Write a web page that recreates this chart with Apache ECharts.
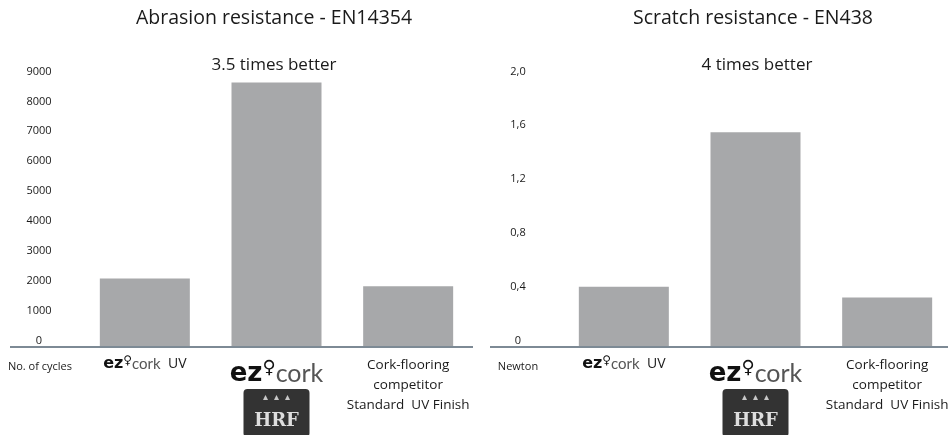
<!DOCTYPE html>
<html>
<head>
<meta charset="utf-8">
<script src="https://cdn.jsdelivr.net/npm/echarts@6/dist/echarts.min.js"></script>
<style>
    html, body { margin: 0; padding: 0; background: #fff; }
    #chart { width: 949px; height: 435px; }
</style>
</head>
<body>
<div id="chart"></div>
<script>
var categories = ['ezcork UV', 'ezcork HRF', 'Cork-flooring competitor Standard UV Finish'];
var abrasionCycles = [2260, 8820, 2000];
var scratchNewton = [0.44, 1.59, 0.36];
var abrasionTicks = { min: 0, max: 9000, interval: 1000 };
var scratchTicks = { min: 0, max: 2, interval: 0.4 };
var titles = ['Abrasion resistance - EN14354', 'Scratch resistance - EN438'];
var subtitles = ['3.5 times better', '4 times better'];
var unitNames = ['No. of cycles', 'Newton'];

var fontFamily = "'Open Sans', 'Noto Sans', sans-serif";
var barColor = '#a7a8aa';
var lineColor = '#7d8a95';
var textColor = '#1a1a1a';

function categoryLabel(value) {
    if (value == categories[0]) {
        return '{ez|ez}{logo|♀}{cork|cork}{uv|  UV}';
    }
    if (value == categories[1]) {
        return '{ez2|ez}{logo2|♀}{cork2|cork}\n{hrfTop|▴  ▴  ▴}\n{hrf|HRF}';
    }
    return '{plain|Cork-flooring}\n{plain|competitor}\n{plain|Standard  UV Finish}';
}

var richStyles = {
    ez: { fontSize: 16, fontWeight: 900, color: '#111', fontFamily: 'DejaVu Sans' },
    logo: { fontSize: 12, fontWeight: 'bold', color: '#111', fontFamily: 'DejaVu Sans', padding: [0, 0, 6, 0] },
    cork: { fontSize: 15, color: '#555', fontFamily: 'Lato' },
    uv: { fontSize: 14, color: textColor, fontFamily: fontFamily },
    ez2: { fontSize: 26, fontWeight: 900, color: '#111', fontFamily: 'DejaVu Sans', lineHeight: 34, padding: [4, 0, 0, 0] },
    logo2: { fontSize: 18, fontWeight: 'bold', color: '#111', fontFamily: 'DejaVu Sans', padding: [0, 0, 8, 0] },
    cork2: { fontSize: 25, color: '#555', fontFamily: 'Lato', lineHeight: 34, padding: [4, 0, 0, 0] },
    hrfTop: {
        width: 66, height: 17, lineHeight: 17, align: 'center', fontSize: 10, color: '#c8c8c8',
        backgroundColor: '#333333', borderRadius: [4, 4, 0, 0]
    },
    hrf: {
        width: 66, height: 31, lineHeight: 31, align: 'center', fontSize: 18, fontWeight: 'bold',
        color: '#dedede', fontFamily: 'DejaVu Serif', backgroundColor: '#333333', borderRadius: [0, 0, 4, 4]
    },
    plain: { fontSize: 13.5, lineHeight: 20, color: textColor, fontFamily: fontFamily }
};

var grids = [
    { left: 79, top: 77, width: 395, height: 269, outerBoundsMode: 'none' },
    { left: 558, top: 77, width: 395, height: 269, outerBoundsMode: 'none' }
];

function makeXAxis(idx) {
    return {
        type: 'category',
        gridIndex: idx,
        data: categories,
        axisLine: { show: false },
        axisTick: { show: false },
        axisLabel: {
            interval: 0,
            margin: 9,
            align: 'center',
            formatter: categoryLabel,
            rich: richStyles
        }
    };
}

function makeYAxis(idx, ticks, formatter, margin) {
    return {
        type: 'value',
        gridIndex: idx,
        min: ticks.min,
        max: ticks.max,
        interval: ticks.interval,
        axisLine: { show: false },
        axisTick: { show: false },
        splitLine: { show: false },
        axisLabel: {
            align: 'center',
            verticalAlign: 'bottom',
            margin: margin,
            fontSize: 11,
            color: textColor,
            fontFamily: fontFamily,
            formatter: formatter
        }
    };
}

function textItem(text, x, y, size) {
    return {
        type: 'text',
        style: {
            x: x, y: y, text: text,
            fontSize: size, fontFamily: fontFamily, fill: textColor,
            textAlign: 'center', textVerticalAlign: 'middle'
        }
    };
}

function axisLine(x1, x2, y) {
    return {
        type: 'line',
        z: 10,
        shape: { x1: x1, y1: y, x2: x2, y2: y },
        style: { stroke: lineColor, lineWidth: 2 }
    };
}

var option = {
    backgroundColor: '#ffffff',
    animation: false,
    grid: grids,
    xAxis: [makeXAxis(0), makeXAxis(1)],
    yAxis: [
        makeYAxis(0, abrasionTicks, function (v) { return String(v); }, 40),
        makeYAxis(1, scratchTicks, function (v) {
            return v == 0 ? '0' : v.toFixed(1).replace('.', ',');
        }, 40)
    ],
    series: [
        {
            name: titles[0],
            type: 'bar',
            xAxisIndex: 0,
            yAxisIndex: 0,
            data: abrasionCycles,
            barWidth: 90,
            itemStyle: { color: barColor }
        },
        {
            name: titles[1],
            type: 'bar',
            xAxisIndex: 1,
            yAxisIndex: 1,
            data: scratchNewton,
            barWidth: 90,
            itemStyle: { color: barColor }
        }
    ],
    graphic: [
        textItem(titles[0], 274, 18, 19.5),
        textItem(titles[1], 753, 18, 19.5),
        textItem(subtitles[0], 274, 65, 17),
        textItem(subtitles[1], 757, 65, 17),
        textItem(unitNames[0], 40, 367, 11),
        textItem(unitNames[1], 518, 367, 11),
        axisLine(10, 473, 347),
        axisLine(490, 948, 347)
    ]
};

var chart = echarts.init(document.getElementById('chart'));
chart.setOption(option);
</script>
</body>
</html>
